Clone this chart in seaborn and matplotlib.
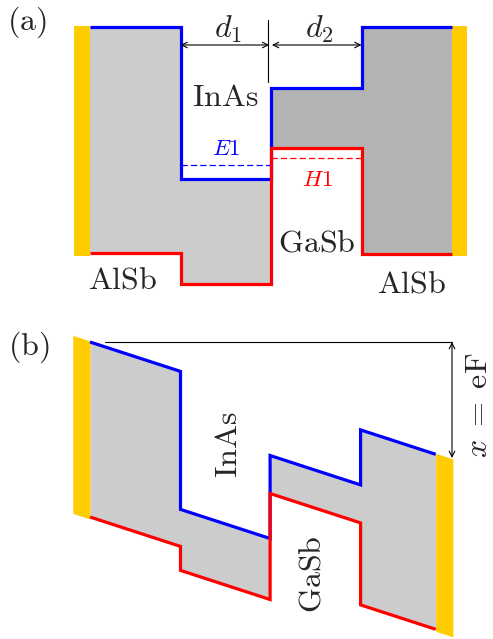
import numpy as np
import matplotlib
matplotlib.use("Agg")
import matplotlib.pyplot as plt
import seaborn as sns

# Layer sequence and band-edge levels (arbitrary energy units, AlSb conduction edge = 0)
layers = ["AlSb", "InAs", "GaSb", "AlSb"]

# (a) flat-band profile
xa_edges = [0.0, 1.0, 2.0, 3.0, 4.0]
ec_a = [0.00, -1.52, -0.61, 0.00]
ev_a = [-2.26, -2.57, -1.21, -2.27]
e1_level = -1.38   # InAs electron subband
h1_level = -1.31   # GaSb hole subband

# (b) same stack under an applied field
xb_edges = [0.0, 1.0, 1.99, 2.99, 3.82]
ec_b = [0.00, -1.38, -0.55, 0.00]
ev_b = [-1.75, -1.99, -0.93, -1.75]
field_slope = 0.294  # potential drop per unit length (eF)

contact_w = 0.18

BLUE = "#0000ff"
RED = "#ff0000"
GOLD = "#ffcc00"
LIGHT = "#cccccc"
DARK = "#b3b3b3"

sns.set_theme(style="white")
plt.rcParams["mathtext.fontset"] = "cm"
plt.rcParams["font.family"] = ["DejaVu Serif"]


def step_profile(edges, levels, tilt=0.0):
    xs, ys = [], []
    for i, lev in enumerate(levels):
        for x in (edges[i], edges[i + 1]):
            xs.append(x)
            ys.append(lev - tilt * x)
    return np.array(xs), np.array(ys)


def band_line(ax, xs, ys, color):
    sns.lineplot(x=xs, y=ys, ax=ax, color=color, lw=2.3, sort=False,
                 estimator=None, solid_joinstyle="miter",
                 solid_capstyle="butt", zorder=3)


fig = plt.figure(figsize=(4.93, 6.39), dpi=100)
ax_a = fig.add_axes([0, 329 / 639, 1, 310 / 639])
ax_b = fig.add_axes([0, 0, 1, 329 / 639])
for ax in (ax_a, ax_b):
    ax.set_xlim(-90 / 90.5, 403 / 90.5)
    ax.axis("off")
ax_a.set_ylim(-2.83, 0.27)
ax_b.set_ylim(-2.97, 0.32)

label_kw = dict(ha="center", va="center", fontsize=23)
small_kw = dict(ha="center", va="center", fontsize=16.5)

# ---------------- (a) ----------------
xa_c, ya_c = step_profile(xa_edges, ec_a)
xa_v, ya_v = step_profile(xa_edges, ev_a)
ax_a.fill_between(xa_c[:4], ya_v[:4], ya_c[:4], color=LIGHT, lw=0, zorder=1)
ax_a.fill_between(xa_c[4:], ya_v[4:], ya_c[4:], color=DARK, lw=0, zorder=1)
band_line(ax_a, xa_c, ya_c, BLUE)
band_line(ax_a, xa_v, ya_v, RED)

# contacts
ax_a.fill_between([-contact_w, 0], ev_a[0] - 0.03, ec_a[0] + 0.01,
                  color=GOLD, lw=0, zorder=2)
ax_a.fill_between([xa_edges[-1], xa_edges[-1] + contact_w - 0.01],
                  ev_a[-1] - 0.02, ec_a[-1] + 0.01, color=GOLD, lw=0, zorder=2)

# subband levels
ax_a.plot([xa_edges[1], xa_edges[2]], [e1_level, e1_level], color=BLUE,
          lw=0.9, ls=(0, (5, 2.5)), zorder=2)
ax_a.plot([xa_edges[2], xa_edges[3]], [h1_level, h1_level], color=RED,
          lw=0.9, ls=(0, (5, 2.5)), zorder=2)

# layer widths
arr = dict(arrowstyle="<->", lw=0.8, color="black", shrinkA=0, shrinkB=0,
           mutation_scale=10)
ax_a.annotate("", xy=(xa_edges[1], -0.18), xytext=(xa_edges[2] - 0.02, -0.18),
              arrowprops=arr)
ax_a.annotate("", xy=(xa_edges[2] + 0.01, -0.18), xytext=(xa_edges[3], -0.18),
              arrowprops=arr)
ax_a.plot([1.97, 1.97], [0.07, -0.55], color="black", lw=0.8)

ax_a.text(1.53, -0.02, r"$d_1$", **label_kw)
ax_a.text(2.53, -0.02, r"$d_2$", **label_kw)
ax_a.text(1.49, -0.71, r"$\mathrm{InAs}$", **label_kw)
ax_a.text(1.51, -1.22, r"$E1$", color=BLUE, **small_kw)
ax_a.text(2.51, -1.53, r"$H1$", color=RED, **small_kw)
ax_a.text(2.51, -2.16, r"$\mathrm{GaSb}$", **label_kw)
ax_a.text(0.365, -2.53, r"$\mathrm{AlSb}$", **label_kw)
ax_a.text(3.55, -2.57, r"$\mathrm{AlSb}$", **label_kw)
ax_a.text(-0.7, 0.05, r"$\mathrm{(a)}$", **label_kw)

# ---------------- (b) ----------------
xb_c, yb_c = step_profile(xb_edges, ec_b, field_slope)
xb_v, yb_v = step_profile(xb_edges, ev_b, field_slope)
ax_b.fill_between(xb_c, yb_v, yb_c, color=LIGHT, lw=0, zorder=1)
band_line(ax_b, xb_c, yb_c, BLUE)
band_line(ax_b, xb_v, yb_v, RED)

# tilted contacts
xl = np.array([-contact_w - 0.01, 0.0])
ax_b.fill_between(xl, ev_b[0] - field_slope * xl - 0.02,
                  ec_b[0] - field_slope * xl + 0.01, color=GOLD, lw=0, zorder=2)
xr = np.array([xb_edges[-1], xb_edges[-1] + contact_w + 0.01])
ax_b.fill_between(xr, ev_b[-1] - field_slope * xr - 0.02,
                  ec_b[-1] - field_slope * xr + 0.01, color=GOLD, lw=0, zorder=2)

# potential drop eF
x_ref = 4.0
ax_b.plot([0.17, x_ref], [0, 0], color="black", lw=0.8)
ax_b.annotate("", xy=(x_ref, 0.0), xytext=(x_ref, -1.16),
              arrowprops=arr)
ax_b.text(4.29, -0.63, r"$x\;=\;\mathrm{eF}$", rotation=90, ha="center",
          va="center", fontsize=23)
ax_b.text(1.525, -1.03, r"$\mathrm{InAs}$", rotation=90, **label_kw)
ax_b.text(2.45, -2.32, r"$\mathrm{GaSb}$", rotation=90, **label_kw)
ax_b.text(-0.68, -0.05, r"$\mathrm{(b)}$", **label_kw)

fig.savefig("out.png", dpi=100)
